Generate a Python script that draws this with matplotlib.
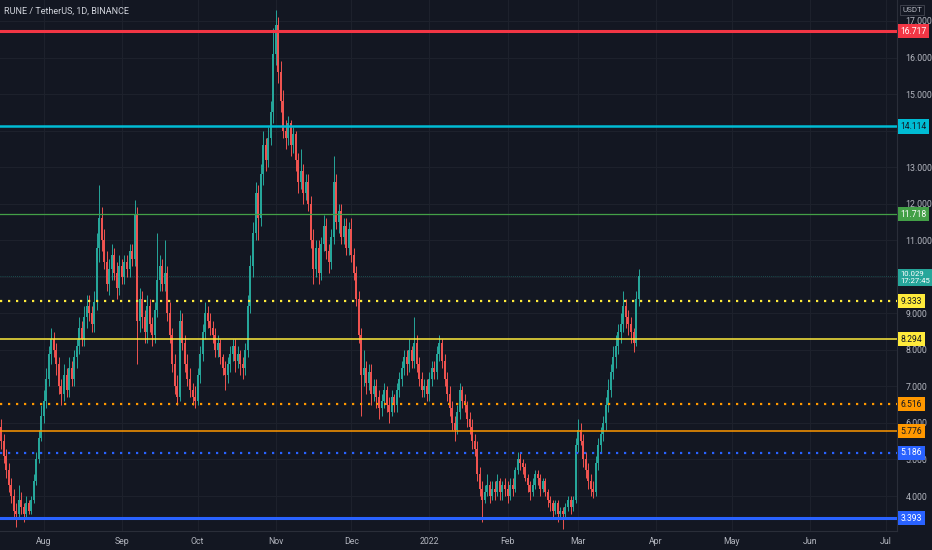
import numpy as np
import matplotlib
matplotlib.use("Agg")
import matplotlib.pyplot as plt
import matplotlib.dates as mdates
import matplotlib.transforms as mtransforms
from matplotlib.ticker import FixedLocator, FuncFormatter

plt.rcParams['font.family'] = ['Roboto', 'DejaVu Sans']

BG = '#131722'
GRID = '#1e222d'
TXT = '#b2b5be'
UP = '#26a69a'
DOWN = '#ef5350'

# daily candles RUNE/USDT, 2021-07-15 .. 2022-03-25
first_open = 5.9

closes_jul = [5.5, 5.1, 4.7, 4.3, 4.0, 3.6, 3.5, 3.9, 3.7, 3.5, 3.8, 3.6, 3.9, 4.4, 5.0, 5.6, 6.2]
highs_jul = [6.1, 5.7, 5.3, 4.9, 4.5, 4.2, 3.8, 4.3, 4.1, 3.8, 4.0, 3.9, 4.0, 4.6, 5.2, 5.8, 6.5]
lows_jul = [5.3, 4.9, 4.5, 4.1, 3.8, 3.4, 3.15, 3.4, 3.5, 3.3, 3.4, 3.5, 3.5, 3.8, 4.3, 4.9, 5.5]

closes_aug = [6.6, 7.2, 7.9, 8.3, 8.0, 7.6, 7.0, 6.8, 7.3, 6.9, 7.5, 7.2, 7.8, 8.1, 8.6, 8.3,
              8.9, 9.2, 9.0, 8.7, 9.3, 10.8, 11.6, 11.0, 10.4, 9.8, 10.2, 10.6, 10.1, 9.7, 10.3]
highs_aug = [6.9, 7.5, 8.1, 8.6, 8.5, 8.2, 7.8, 7.2, 7.6, 7.5, 7.8, 7.7, 8.0, 8.3, 8.9, 8.8,
             9.2, 9.5, 9.5, 9.2, 9.6, 11.2, 12.5, 11.9, 11.3, 10.7, 10.5, 10.9, 10.8, 10.4, 10.6]
lows_aug = [6.0, 6.4, 7.0, 7.6, 7.8, 7.3, 6.8, 6.5, 6.6, 6.7, 6.7, 7.0, 7.0, 7.5, 7.9, 8.1,
            8.1, 8.6, 8.8, 8.5, 8.5, 9.1, 10.4, 10.7, 10.2, 9.6, 9.5, 9.9, 9.9, 9.4, 9.5]

closes_sep = [10.0, 10.4, 10.2, 10.7, 10.5, 11.7, 8.8, 9.4, 8.9, 8.5, 9.2, 8.7, 8.4, 9.1, 9.9,
              10.3, 9.8, 10.1, 9.0, 8.4, 7.6, 7.0, 6.7, 8.8, 8.2, 7.6, 7.2, 6.9, 6.7, 6.6]
highs_sep = [10.5, 10.6, 10.6, 10.9, 10.9, 12.1, 11.9, 9.7, 9.6, 9.1, 9.5, 9.4, 8.9, 9.3, 11.2,
             10.6, 10.5, 11.0, 10.3, 9.3, 8.6, 7.9, 7.3, 9.1, 9.0, 8.4, 7.9, 7.5, 7.1, 7.0]
lows_sep = [9.8, 9.8, 10.0, 10.0, 10.3, 10.3, 7.6, 8.5, 8.6, 8.2, 8.2, 8.5, 8.1, 8.2, 8.9,
            9.6, 9.6, 9.6, 8.8, 8.2, 7.4, 6.8, 6.5, 6.6, 8.0, 7.4, 7.0, 6.7, 6.5, 6.4]

closes_oct = [7.3, 7.9, 8.5, 9.0, 8.8, 8.6, 8.4, 8.0, 8.2, 7.8, 7.5, 7.3, 7.6, 7.9, 8.1, 7.7,
              7.9, 7.6, 7.5, 8.0, 9.2, 10.3, 11.2, 12.3, 11.6, 12.8, 13.6, 13.2, 13.8, 14.5, 16.1]
highs_oct = [7.5, 8.1, 8.7, 9.3, 9.2, 9.0, 8.8, 8.6, 8.4, 8.3, 7.9, 7.7, 7.8, 8.1, 8.3, 8.3,
             8.1, 8.0, 7.8, 8.2, 9.5, 10.6, 11.5, 12.6, 12.5, 13.1, 14.0, 13.8, 14.1, 14.8, 16.8]
lows_oct = [6.5, 7.1, 7.7, 8.3, 8.6, 8.4, 8.2, 7.8, 7.8, 7.6, 7.3, 6.9, 7.1, 7.4, 7.7, 7.4,
            7.5, 7.3, 7.2, 7.3, 7.8, 9.0, 10.0, 11.0, 11.0, 11.4, 12.5, 12.9, 13.0, 13.6, 14.2]

closes_nov = [16.9, 15.6, 14.8, 14.0, 13.8, 14.2, 13.6, 13.9, 13.2, 12.6, 12.9, 12.3, 12.6, 12.0, 11.0,
              10.2, 10.8, 10.1, 10.9, 11.4, 10.7, 10.4, 11.1, 12.6, 11.5, 11.8, 11.1, 11.4, 10.8, 11.3]
highs_nov = [17.3, 17.1, 15.9, 15.1, 14.3, 14.4, 14.3, 14.1, 14.0, 13.4, 13.5, 13.1, 12.8, 12.8, 12.2,
             11.3, 11.0, 11.0, 11.1, 11.7, 11.6, 10.9, 11.3, 13.3, 12.8, 12.0, 12.0, 11.6, 11.6, 11.5]
lows_nov = [15.8, 15.3, 14.5, 13.8, 13.5, 13.6, 13.3, 13.4, 12.9, 12.3, 12.4, 12.0, 12.1, 11.8, 10.8,
            9.8, 10.0, 9.8, 9.9, 10.7, 10.5, 10.1, 10.2, 10.9, 11.3, 11.2, 10.9, 10.9, 10.6, 10.6]

closes_dec = [10.6, 10.1, 9.4, 8.4, 7.3, 7.5, 7.1, 7.4, 6.8, 7.0, 6.7, 6.4, 6.6, 6.9, 6.5, 6.3,
              6.7, 6.5, 6.9, 7.2, 7.5, 7.8, 7.6, 8.0, 7.7, 8.2, 7.6, 7.2, 6.9, 7.0, 6.8]
highs_dec = [11.6, 10.8, 10.3, 9.6, 8.6, 8.0, 7.7, 7.6, 7.6, 7.2, 7.2, 6.9, 6.8, 7.1, 7.0, 6.7,
             6.9, 6.8, 7.1, 7.4, 7.7, 8.0, 8.0, 8.3, 8.1, 8.9, 8.4, 7.8, 7.4, 7.2, 7.2]
lows_dec = [10.4, 9.9, 9.2, 8.2, 6.2, 7.0, 6.8, 6.9, 6.5, 6.6, 6.4, 6.1, 6.2, 6.4, 6.3, 6.0,
            6.2, 6.3, 6.3, 6.7, 7.0, 7.3, 7.3, 7.4, 7.5, 7.5, 7.4, 7.0, 6.7, 6.7, 6.6]

closes_jan = [7.2, 7.5, 7.4, 7.9, 8.2, 7.7, 7.2, 6.8, 6.4, 6.0, 5.8, 6.3, 6.9, 6.6, 6.5, 6.1,
              5.9, 5.5, 5.3, 4.6, 4.2, 3.9, 4.1, 4.3, 4.0, 4.2, 4.1, 4.4, 4.1, 4.3, 4.2]
highs_jan = [7.4, 7.7, 7.7, 8.1, 8.4, 8.3, 7.9, 7.4, 7.0, 6.6, 6.2, 6.5, 7.1, 7.0, 6.8, 6.6,
             6.3, 6.1, 5.7, 5.5, 4.8, 4.4, 4.3, 4.6, 4.4, 4.4, 4.4, 4.6, 4.5, 4.4, 4.5]
lows_jan = [6.6, 7.0, 7.2, 7.2, 7.7, 7.5, 7.0, 6.6, 6.2, 5.8, 5.5, 5.7, 6.1, 6.4, 6.3, 5.9,
            5.7, 5.3, 5.1, 4.4, 4.0, 3.3, 3.8, 4.0, 3.8, 3.9, 3.9, 4.0, 3.9, 3.9, 4.0]

closes_feb = [4.0, 4.3, 4.2, 4.7, 5.0, 4.9, 4.8, 4.5, 4.3, 4.1, 4.3, 4.6, 4.5, 4.2,
              4.4, 4.1, 3.9, 3.8, 3.6, 3.8, 3.5, 3.6, 3.5, 3.7, 3.9, 3.7, 3.9, 5.4]
highs_feb = [4.4, 4.5, 4.5, 4.8, 5.2, 5.2, 5.0, 4.9, 4.6, 4.4, 4.5, 4.7, 4.7, 4.6,
             4.5, 4.5, 4.2, 4.0, 3.9, 3.9, 3.9, 3.7, 3.7, 3.8, 4.0, 4.0, 4.0, 5.6]
lows_feb = [3.8, 3.9, 4.0, 4.1, 4.6, 4.7, 4.6, 4.4, 4.1, 3.9, 4.0, 4.2, 4.3, 4.0,
            4.1, 4.0, 3.7, 3.6, 3.4, 3.5, 3.3, 3.4, 3.1, 3.4, 3.6, 3.5, 3.6, 3.8]

closes_mar = [5.8, 5.5, 5.0, 4.7, 4.4, 4.2, 4.1, 4.9, 5.4, 5.7, 6.0, 6.5, 6.9, 7.4, 7.8, 8.1,
              8.5, 8.7, 9.2, 8.9, 8.7, 8.5, 8.2, 9.4, 10.029]
highs_mar = [6.1, 6.0, 5.7, 5.2, 4.9, 4.6, 4.4, 5.1, 5.6, 5.9, 6.2, 6.7, 7.2, 7.6, 8.1, 8.4,
             8.7, 9.0, 9.6, 9.4, 9.1, 8.9, 8.6, 9.6, 10.2]
lows_mar = [5.2, 5.4, 4.8, 4.5, 4.2, 4.0, 3.95, 4.0, 4.7, 5.2, 5.5, 5.8, 6.3, 6.7, 7.2, 7.5,
            7.9, 8.2, 8.5, 8.6, 8.4, 8.2, 7.95, 8.1, 9.2]

closes = (closes_jul + closes_aug + closes_sep + closes_oct + closes_nov
          + closes_dec + closes_jan + closes_feb + closes_mar)
highs = (highs_jul + highs_aug + highs_sep + highs_oct + highs_nov
         + highs_dec + highs_jan + highs_feb + highs_mar)
lows = (lows_jul + lows_aug + lows_sep + lows_oct + lows_nov
        + lows_dec + lows_jan + lows_feb + lows_mar)
opens = [first_open] + closes[:-1]

dates = np.arange('2021-07-15', '2022-03-26', dtype='datetime64[D]')

# drawn horizontal levels
level_prices = [16.717, 14.114, 11.718, 9.333, 8.294, 6.516, 5.776, 5.186, 3.393]
last_price = 10.029
last_time = '17:27:45'
price_ticks = [4, 5, 6, 7, 8, 9, 10, 11, 12, 13, 14, 15, 16, 17]

level_colors = ['#f23645', '#00bcd4', '#43a047', '#ffeb3b', '#ffeb3b',
                '#ff9800', '#ff9800', '#2962ff', '#2962ff']
level_text = ['white', '#131722', 'white', '#131722', '#131722',
              '#131722', '#131722', 'white', 'white']
level_styles = ['-', '-', '-', ':', '-', ':', '-', ':', '-']
level_widths = [2.2, 1.8, 0.9, 1.6, 1.1, 1.6, 1.1, 1.6, 2.2]

W, H = 932, 550
fig = plt.figure(figsize=(W / 100, H / 100), dpi=100, facecolor=BG)
ax = fig.add_axes([0, 19 / H, 897 / W, 531 / H], facecolor=BG)

x = mdates.date2num(dates)
o = np.array(opens)
c = np.array(closes)
hi = np.array(highs)
lo = np.array(lows)
col = np.where(c >= o, UP, DOWN)

ax.vlines(x, lo, hi, colors=col, linewidth=0.7, zorder=3)
body = np.abs(c - o)
body = np.where(body < 0.03, 0.03, body)
ax.bar(x, body, bottom=np.minimum(o, c), width=0.8, color=col, linewidth=0, zorder=3)

for p, clr, ls, lw in zip(level_prices, level_colors, level_styles, level_widths):
    if ls == ':':
        ax.axhline(p, color=clr, lw=lw, linestyle=(0, (1, 2.6)), dash_capstyle='butt', zorder=4)
    else:
        ax.axhline(p, color=clr, lw=lw, zorder=4)
ax.axhline(last_price, color=UP, lw=0.6, alpha=0.5, linestyle=(0, (1, 1.5)), zorder=2)

px_per_day = 2.52
x0 = mdates.date2num(np.datetime64('2021-07-15')) - 1 / px_per_day
ax.set_xlim(x0, x0 + 897 / px_per_day)
ax.set_ylim(17 - 510 / 36.54, 17 + 21 / 36.54)

# axes styling
for s in ax.spines.values():
    s.set_visible(False)
ax.spines['right'].set_visible(True)
ax.spines['right'].set_color('#2a2e39')
ax.spines['bottom'].set_visible(True)
ax.spines['bottom'].set_color('#2a2e39')

# tick labels sitting under a price label box are hidden, as on the scale
covered = level_prices + [last_price]


def price_fmt(v, pos):
    if any(abs(v - p) < 0.15 for p in covered):
        return ''
    return '%.3f' % v


ax.yaxis.tick_right()
ax.yaxis.set_major_locator(FixedLocator(price_ticks))
ax.yaxis.set_major_formatter(FuncFormatter(price_fmt))
ax.xaxis.set_major_locator(mdates.MonthLocator())
ax.xaxis.set_major_formatter(FuncFormatter(
    lambda v, pos: mdates.num2date(v).strftime('%Y') if mdates.num2date(v).month == 1
    else mdates.num2date(v).strftime('%b')))
ax.tick_params(axis='both', length=0, colors=TXT, labelsize=6.3)
ax.tick_params(axis='y', pad=6)
ax.tick_params(axis='x', pad=4)
ax.grid(True, color=GRID, lw=0.7, zorder=0)
ax.set_axisbelow(True)

# price labels on the right scale
trans = mtransforms.blended_transform_factory(ax.transAxes, ax.transData)
for p, clr, tc in zip(level_prices, level_colors, level_text):
    ax.text(1.004, p, '%.3f' % p, transform=trans, ha='left', va='center',
            fontsize=6.2, color=tc, clip_on=False, zorder=6,
            bbox=dict(boxstyle='square,pad=0.3', fc=clr, ec='none'))
ax.text(1.004, last_price + 0.12, '%.3f\n%s' % (last_price, last_time), transform=trans,
        ha='left', va='top', fontsize=5.6, color='white', clip_on=False, zorder=6,
        linespacing=1.1, bbox=dict(boxstyle='square,pad=0.3', fc=UP, ec='none'))

fig.text(4 / W, 1 - 11 / H, 'RUNE / TetherUS, 1D, BINANCE', fontsize=6.5,
         color='#d1d4dc', va='center', ha='left')
fig.text(912 / W, 1 - 10 / H, 'USDT', fontsize=5.8, color=TXT, va='center', ha='center',
         bbox=dict(boxstyle='square,pad=0.3', fc=BG, ec='#434651', lw=0.6))

fig.savefig('out.png', dpi=100, facecolor=BG)
